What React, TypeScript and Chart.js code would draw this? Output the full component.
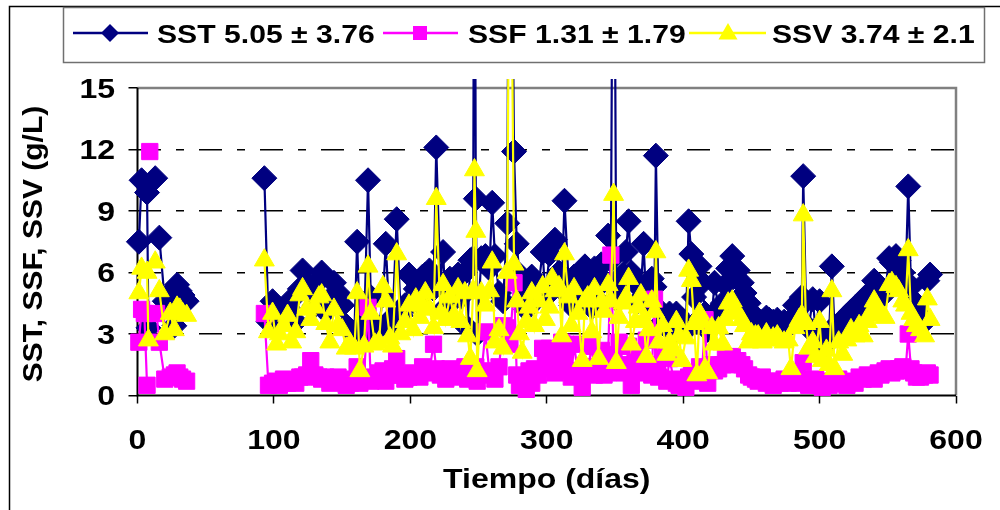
import React, { useEffect, useRef } from "react";
import { Chart, registerables } from "chart.js";

Chart.register(...registerables);

// ---------------- data ----------------
const dias = [
  1, 3, 5, 7, 8, 9, 13, 14, 16, 20, 24, 27, 29, 31, 33, 36, 60,
  93, 96, 99, 102, 104, 107, 110, 113, 116, 119,
  121, 124, 127, 130, 133, 135, 138, 141, 144, 147,
  150, 153, 156, 159, 161, 163, 166, 169, 171, 174,
  177, 180, 182, 185, 187, 190, 193, 196, 199, 202,
  204, 207, 209, 211, 214, 217, 219, 222, 224, 226,
  229, 232, 235, 237, 240, 242, 244, 246, 247, 248,
  249, 252, 255, 258, 260, 262, 265, 268, 271, 273,
  276, 278, 280, 282, 285, 287, 289, 291, 294, 297,
  299, 302, 304, 306, 309, 311, 313, 316, 318, 320,
  323, 326, 328, 330, 333, 335, 338, 340, 342, 345,
  347, 349, 351, 353, 356, 358, 360, 362, 365, 367,
  369, 371, 373, 375, 377, 379, 380, 382, 385, 388,
  390, 393, 395, 397, 399, 402, 404, 406, 408, 410,
  412, 414, 416, 418, 421, 423, 426, 429, 431, 433,
  436, 438, 440, 443, 445, 448, 450, 453, 455, 458,
  461, 463, 466, 469, 471, 474, 477, 479, 482, 485,
  487, 488, 490, 492, 495, 497, 500, 502, 505, 507,
  509, 511, 514, 517, 520, 523, 526, 529, 532, 535,
  537, 540, 543, 545, 548, 551, 553, 556, 558, 561,
  563, 565, 567, 569, 571, 574, 577, 579, 581,
];

const sst = [
  7.5, 10.5, null, 9.9, 3.3, null, 10.6, null, 7.7, 4.6, 5.0, 3.4, 5.4, 5.1, 4.9, 4.6, null,
  10.6, 3.6, 4.6, 3.4, 3.9, 4.0, 4.3, 4.7, 3.6, 5.2,
  6.1, 5.5, 5.3, 4.4, 5.6, 6.0, 4.1, 4.7, 5.5, 5.0,
  4.4, 3.4, 3.2, 3.1, 7.5, 3.3, 3.0, 10.5, 4.8, 3.4,
  3.3, 4.9, 7.4, 3.3, 3.8, 8.6, 3.9, 4.4, 5.9, 4.6,
  5.2, 4.5, 5.8, 5.9, 6.1, 5.2, 12.1, 5.5, 7.0, 4.3,
  5.7, 5.0, 5.9, 4.8, 6.0, 3.3, 6.6, 6.7, 32, 9.6,
  3.0, 6.7, 6.8, 6.2, 9.4, 6.8, 5.0, 4.6, 8.4, 36,
  11.9, 7.4, 5.9, 4.7, 4.2, 5.5, 5.8, 4.6, 5.4, 7.0,
  4.8, 6.9, 7.4, 7.6, 6.0, 5.2, 9.5, 5.6, 4.4, 5.8,
  5.3, 4.6, 6.3, 5.8, 4.3, 6.2, 4.6, 6.4, 5.6, 7.8,
  6.6, 33, 4.7, 5.3, 5.9, 7.0, 8.5, 6.0, 5.5, 4.6,
  5.2, 7.4, 4.4, 5.5, 5.7, 5.3, 11.7, 4.2, 3.6, 3.4,
  4.0, 3.0, 4.0, 3.4, 3.7, 3.2, 8.5, 6.9, 4.8, 3.6,
  6.3, 5.5, 4.0, 3.2, 3.9, 5.5, 4.2, 4.5, 5.4, 6.2,
  6.8, 5.8, 6.1, 5.5, 5.0, 4.5, 4.0, 3.8, 3.7, 3.6,
  3.8, 3.7, 3.6, 3.7, 3.5, 3.6, 3.4, 3.7, 4.4, 4.5,
  4.8, 10.7, 4.6, 3.3, 4.7, 3.2, 4.6, 2.4, 2.5, 3.1,
  6.3, 3.2, 3.4, 3.6, 3.9, 4.1, 4.3, 4.2, 4.5, 4.9,
  5.0, 5.6, 5.3, 4.8, 5.0, 6.7, 6.5, 6.8, 6.6, 6.0,
  5.6, 10.2, 5.3, 4.6, 4.2, 3.9, 3.6, 5.6, 5.9,
];

const ssf = [
  2.6, 4.2, 4.0, 0.5, null, 11.9, null, 4.0, 2.6, 0.8, 0.9, 1.0, 1.1, 0.9, 0.8, 0.7, null,
  4.0, 0.5, 0.6, 0.7, 0.5, 0.8, 0.6, 0.7, 0.6, 0.9,
  0.9, 1.0, 1.7, 1.0, 0.9, 0.8, 0.9, 0.6, 0.7, 0.9,
  0.8, 0.5, 0.6, 0.7, 1.4, 0.6, 0.9, 4.3, 0.7, 0.8,
  1.1, 1.2, 0.7, 1.0, 1.3, 1.8, 1.0, 0.8, 0.9, 1.1,
  1.0, 0.9, 1.4, 1.1, 1.2, 2.5, 1.3, 1.0, 1.2, 0.8,
  1.3, 0.9, 1.1, 1.0, 1.4, 0.8, 1.2, 0.9, 1.2, 1.4,
  0.7, 1.0, 3.1, 1.1, 1.2, 0.8, 1.4, 3.4, 3.3, 2.5,
  5.5, 1.0, 0.5, 0.9, 0.3, 1.2, 0.6, 1.3, 1.0, 2.3,
  1.6, 2.3, 1.3, 1.1, 1.6, 2.6, 2.0, 1.2, 0.9, 2.5,
  1.0, 0.4, 1.4, 1.2, 2.4, 1.0, 1.3, 2.2, 1.0, 1.9,
  6.85, 2.0, 1.1, 2.6, 1.5, 1.2, 2.4, 0.5, 2.0, 1.6,
  1.1, 1.4, 2.7, 1.2, 1.0, 4.7, 1.5, 0.9, 2.3, 0.7,
  1.8, 0.8, 0.6, 0.5, 0.6, 0.4, 0.9, 1.0, 0.7, 1.0,
  1.4, 1.3, 3.7, 0.6, 1.5, 1.2, 1.3, 1.5, 1.8, 1.6,
  1.9, 1.5, 1.7, 1.5, 1.3, 1.0, 0.9, 0.8, 0.7, 0.9,
  0.6, 0.7, 0.5, 0.7, 0.6, 0.8, 0.6, 0.7, 0.9, 0.6,
  0.8, 1.6, 0.7, 0.5, 0.6, 0.8, 0.5, 0.4, 0.6, 0.5,
  0.7, 0.6, 0.8, 0.6, 0.5, 0.7, 0.6, 0.9, 0.8, 1.0,
  0.9, 0.8, 1.1, 1.0, 1.2, 1.3, 1.1, 1.2, 1.3, 1.4,
  1.2, 3.0, 1.3, 1.1, 0.9, 0.9, 1.0, 1.1, 1.0,
];

const ssv = [
  5.0, 6.2, null, 6.0, 2.7, null, 6.5, null, 5.1, 3.0, 4.0, 3.2, 4.3, 4.2, 4.0, 3.9, null,
  6.6, 3.1, 4.0, 2.5, 3.0, 3.4, 3.9, 2.6, 3.1, 4.9,
  5.2, 4.2, 3.7, 4.3, 4.8, 4.9, 3.5, 2.6, 4.2, 3.4,
  3.2, 2.3, 2.5, 2.3, 5.0, 1.2, 2.4, 6.3, 4.0, 2.5,
  2.6, 5.3, 4.6, 2.8, 2.4, 6.9, 3.0, 3.6, 4.4, 3.2,
  4.7, 3.8, 4.4, 5.0, 4.2, 3.3, 9.6, 4.0, 5.4, 3.7,
  4.8, 3.9, 5.2, 3.6, 5.0, 2.9, 1.8, 5.1, 11.0, 8.0,
  1.2, 5.0, 4.4, 5.1, 6.5, 2.6, 3.2, 2.3, 6.0, 30,
  6.4, 4.6, 3.0, 2.1, 3.6, 4.3, 5.0, 3.4, 4.6, 5.3,
  3.7, 4.3, 5.7, 5.1, 5.3, 2.9, 6.9, 4.8, 3.4, 5.2,
  4.0, 1.7, 4.6, 4.8, 3.1, 5.2, 1.8, 4.6, 4.1, 5.4,
  4.6, 9.8, 1.6, 3.8, 4.5, 4.8, 5.7, 2.5, 3.6, 4.3,
  4.9, 3.7, 1.9, 3.2, 4.6, 4.1, 7.0, 2.6, 3.4, 2.0,
  2.6, 2.2, 3.6, 2.9, 1.7, 2.8, 6.1, 5.6, 3.5, 1.0,
  4.0, 3.6, 1.3, 1.1, 3.3, 2.5, 3.3, 2.5, 3.7, 4.5,
  4.6, 4.2, 4.0, 3.7, 3.4, 2.6, 3.0, 2.9, 2.9, 2.6,
  3.0, 2.7, 2.8, 2.9, 2.7, 2.6, 2.7, 1.3, 3.3, 3.7,
  3.9, 8.8, 3.5, 2.3, 2.6, 1.9, 3.6, 1.7, 2.2, 1.5,
  5.1, 1.3, 2.6, 2.0, 2.7, 3.2, 2.9, 3.4, 2.9, 3.6,
  4.0, 4.6, 4.2, 3.9, 3.8, 5.4, 5.5, 5.3, 5.1, 4.6,
  4.4, 7.1, 4.0, 3.7, 3.4, 3.2, 2.9, 4.7, 3.7,
];

const yTicks = [0, 3, 6, 9, 12, 15];
const xTicks = [0, 100, 200, 300, 400, 500, 600];
const seriesNames = ["SST", "SSF", "SSV"];
const legendLabels = ["SST 5.05 ± 3.76", "SSF 1.31 ± 1.79", "SSV 3.74 ± 2.1"];
const xTitle = "Tiempo (días)";
const yTitle = "SST, SSF, SSV (g/L)";

// ---------------- styling ----------------
const NAVY = "#000080";
const MAGENTA = "#FF00FF";
const YELLOW = "#FFFF00";
const FONT = '"Liberation Sans", Arial, Helvetica, sans-serif';
const KY = 0.86;

function drawText(
  ctx: CanvasRenderingContext2D,
  s: string,
  x: number,
  yc: number,
  size: number,
  align: CanvasTextAlign,
  kx = 1
) {
  ctx.save();
  ctx.translate(x, yc);
  ctx.scale(kx, KY);
  ctx.font = `bold ${size}px ${FONT}`;
  ctx.textAlign = align;
  ctx.textBaseline = "alphabetic";
  ctx.fillStyle = "#000";
  ctx.fillText(s, 0, 0.358 * size);
  ctx.restore();
}

function diamond(ctx: CanvasRenderingContext2D, x: number, y: number, r: number, c: string) {
  ctx.beginPath();
  ctx.moveTo(x - r, y);
  ctx.lineTo(x, y - r);
  ctx.lineTo(x + r, y);
  ctx.lineTo(x, y + r);
  ctx.closePath();
  ctx.fillStyle = c;
  ctx.fill();
}
function square(ctx: CanvasRenderingContext2D, x: number, y: number, s: number, c: string) {
  ctx.fillStyle = c;
  ctx.fillRect(x - s / 2, y - s / 2, s, s);
}
function triangle(ctx: CanvasRenderingContext2D, x: number, y: number, r: number, c: string) {
  ctx.beginPath();
  ctx.moveTo(x, y - r);
  ctx.lineTo(x + r * 0.866, y + r / 2);
  ctx.lineTo(x - r * 0.866, y + r / 2);
  ctx.closePath();
  ctx.fillStyle = c;
  ctx.fill();
}

const decorPlugin = {
  id: "decor",
  beforeDatasetsDraw(chart: any) {
    const { ctx, chartArea: a } = chart;
    ctx.save();
    ctx.strokeStyle = "#808080";
    ctx.lineWidth = 2.5;
    ctx.beginPath();
    ctx.moveTo(a.left, a.top);
    ctx.lineTo(a.right, a.top);
    ctx.lineTo(a.right, a.bottom);
    ctx.stroke();
    ctx.strokeStyle = "#000";
    ctx.lineWidth = 2;
    ctx.beginPath();
    ctx.moveTo(a.left, a.top);
    ctx.lineTo(a.left, a.bottom);
    ctx.lineTo(a.right, a.bottom);
    ctx.stroke();
    ctx.restore();
  },
  afterDraw(chart: any) {
    const { ctx } = chart;
    const xs = chart.scales.x;
    const ys = chart.scales.y;
    ctx.save();
    // outer frame
    ctx.strokeStyle = "#000";
    ctx.lineWidth = 1.5;
    ctx.beginPath();
    ctx.moveTo(9.5, 512);
    ctx.lineTo(9.5, 6.5);
    ctx.lineTo(1002, 6.5);
    ctx.stroke();

    // tick labels
    yTicks.forEach((v) => drawText(ctx, String(v), 115, ys.getPixelForValue(v), 32, "right"));
    xTicks.forEach((v) => drawText(ctx, String(v), xs.getPixelForValue(v), 439, 32, "center"));

    // axis titles
    drawText(ctx, xTitle, (xs.left + xs.right) / 2, 478, 32, "center");
    ctx.save();
    ctx.translate(32, 244);
    ctx.rotate(-Math.PI / 2);
    ctx.scale(1.07, 1);
    ctx.font = `bold 28px ${FONT}`;
    ctx.textAlign = "center";
    ctx.textBaseline = "alphabetic";
    ctx.fillStyle = "#000";
    ctx.fillText(yTitle, 0, 0.358 * 28);
    ctx.restore();

    // legend
    ctx.fillStyle = "#fff";
    ctx.fillRect(63, 7, 922, 56);
    ctx.strokeStyle = "#707070";
    ctx.lineWidth = 1.5;
    ctx.strokeRect(63.5, 7.5, 921, 55);
    const ly = 33;
    const items = [
      { x1: 73, x2: 148, mx: 110, tx: 157, c: NAVY, kind: "d" },
      { x1: 383, x2: 458, mx: 420, tx: 468, c: MAGENTA, kind: "s" },
      { x1: 689, x2: 766, mx: 728, tx: 772, c: YELLOW, kind: "t" },
    ];
    items.forEach((it, i) => {
      ctx.strokeStyle = it.c;
      ctx.lineWidth = 2.5;
      ctx.beginPath();
      ctx.moveTo(it.x1, ly);
      ctx.lineTo(it.x2, ly);
      ctx.stroke();
      if (it.kind === "d") diamond(ctx, it.mx, ly, 9, it.c);
      if (it.kind === "s") square(ctx, it.mx, ly, 14, it.c);
      if (it.kind === "t") triangle(ctx, it.mx, ly + 1, 11, it.c);
      drawText(ctx, legendLabels[i], it.tx, 34, 29, "left", 1.04);
    });
    ctx.restore();
  },
};

function pts(vals: (number | null)[]) {
  return dias.map((d, i) => ({ x: d, y: vals[i] }));
}

export default function App() {
  const ref = useRef<HTMLCanvasElement | null>(null);
  useEffect(() => {
    if (!ref.current) return;
    const clip = { left: 20, top: 9, right: 20, bottom: 20 };
    const common = { tension: 0, spanGaps: false, pointBorderWidth: 1, clip };
    const chart = new Chart(ref.current, {
      type: "line",
      data: {
        datasets: [
          {
            label: seriesNames[0],
            data: pts(sst),
            borderColor: NAVY,
            backgroundColor: NAVY,
            borderWidth: 2.2,
            pointStyle: "rectRot",
            pointRadius: 12.5,
            pointBackgroundColor: NAVY,
            pointBorderColor: NAVY,
            order: 3,
            ...common,
          },
          {
            label: seriesNames[1],
            data: pts(ssf),
            borderColor: MAGENTA,
            backgroundColor: MAGENTA,
            borderWidth: 2.2,
            pointStyle: "rect",
            pointRadius: 11.5,
            pointBackgroundColor: MAGENTA,
            pointBorderColor: MAGENTA,
            order: 2,
            ...common,
          },
          {
            label: seriesNames[2],
            data: pts(ssv),
            borderColor: YELLOW,
            backgroundColor: YELLOW,
            borderWidth: 2.2,
            pointStyle: "triangle",
            pointRadius: 11.5,
            pointBackgroundColor: YELLOW,
            pointBorderColor: YELLOW,
            order: 1,
            ...common,
          },
        ],
      } as any,
      options: {
        responsive: false,
        animation: false,
        events: [],
        layout: { padding: { top: 88, right: 44, left: 0, bottom: 0 } },
        plugins: { legend: { display: false }, tooltip: { enabled: false } },
        scales: {
          x: {
            type: "linear",
            min: 0,
            max: 600,
            afterFit: (s: any) => {
              s.height = 114.5;
            },
            border: { display: false },
            ticks: { display: false, stepSize: 100 },
            grid: {
              drawOnChartArea: false,
              drawTicks: true,
              tickLength: 8,
              tickColor: "#000",
              tickWidth: 1.5,
              color: "#000",
            },
          },
          y: {
            type: "linear",
            min: 0,
            max: 15,
            afterFit: (s: any) => {
              s.width = 137.5;
            },
            border: { display: false, dash: [23, 15, 8, 15] },
            ticks: { display: false, stepSize: 3 },
            grid: {
              drawTicks: true,
              tickLength: 9,
              tickColor: "#000",
              tickWidth: 1.5,
              lineWidth: 1.5,
              color: (c: any) =>
                c.tick && c.tick.value > 0 && c.tick.value < 15 ? "#000" : "rgba(0,0,0,0)",
            },
          },
        },
      } as any,
      plugins: [decorPlugin],
    });
    return () => chart.destroy();
  }, []);

  return (
    <div style={{ position: "absolute", left: 0, top: 0, width: 1000, height: 510, background: "#fff" }}>
      <canvas ref={ref} width={1000} height={510} style={{ display: "block" }} />
    </div>
  );
}
